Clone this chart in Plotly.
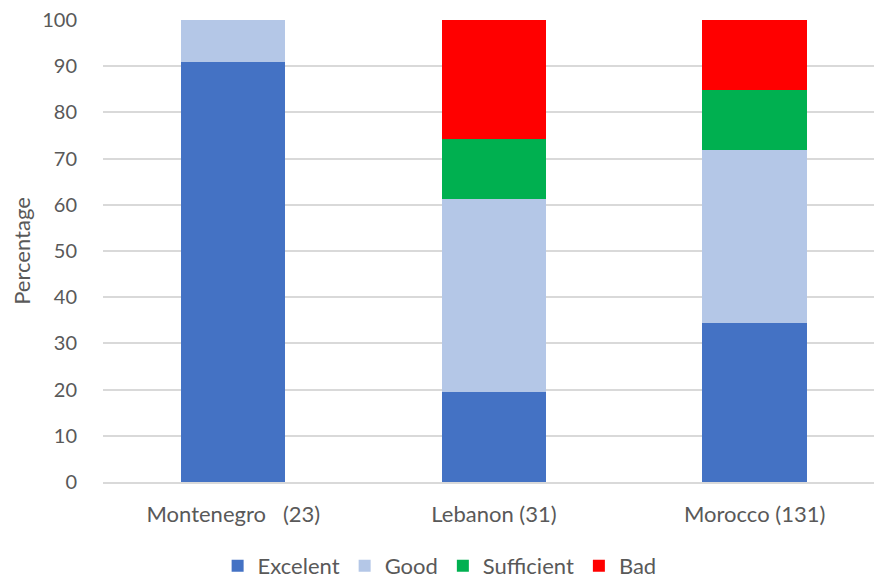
import plotly.graph_objects as go

categories = ["Montenegro\u00a0\u00a0\u00a0(23)", "Lebanon (31)", "Morocco (131)"]
excelent = [90.9, 19.4, 34.4]
good = [9.1, 41.9, 37.4]
sufficient = [0.0, 12.9, 13.0]
bad = [0.0, 25.8, 15.2]

series = [
    ("Excelent", excelent, "#4472C4"),
    ("Good", good, "#B4C7E7"),
    ("Sufficient", sufficient, "#00B050"),
    ("Bad", bad, "#FF0000"),
]

FONT = "Lato"
TXT = "#595959"
FS = 22

fig = go.Figure()
for name, vals, col in series:
    fig.add_trace(go.Bar(x=categories, y=vals, name=name,
                         marker=dict(color=col, line=dict(width=0))))

fig.update_layout(
    width=874, height=578,
    barmode="stack", bargap=0.6,
    plot_bgcolor="white", paper_bgcolor="white",
    margin=dict(l=102.5, r=0, t=20, b=96),
    font=dict(family=FONT, color=TXT, size=FS),
    showlegend=True,
    legend=dict(orientation="h", xref="container", yref="container",
                x=0.503, xanchor="center", y=0.021, yanchor="middle",
                font=dict(size=FS, color=TXT), traceorder="normal"),
    xaxis=dict(range=[-0.5, 2.458], showgrid=False, showline=True,
               linecolor="#D9D9D9", linewidth=1.5, ticks="outside",
               tickcolor="rgba(0,0,0,0)", ticklen=12,
               tickfont=dict(size=FS, color=TXT)),
    yaxis=dict(range=[0, 100], dtick=10, showgrid=True, gridcolor="#D9D9D9",
               gridwidth=1.5, zeroline=False, showline=False,
               ticks="outside", tickcolor="rgba(0,0,0,0)", ticklen=21,
               tickfont=dict(size=20, color=TXT),
               title=dict(text="Percentage", font=dict(size=FS, color=TXT),
                          standoff=5)),
)

fig.write_html("out.html", config={"displayModeBar": False},
               post_script="document.body.style.margin='0';")
